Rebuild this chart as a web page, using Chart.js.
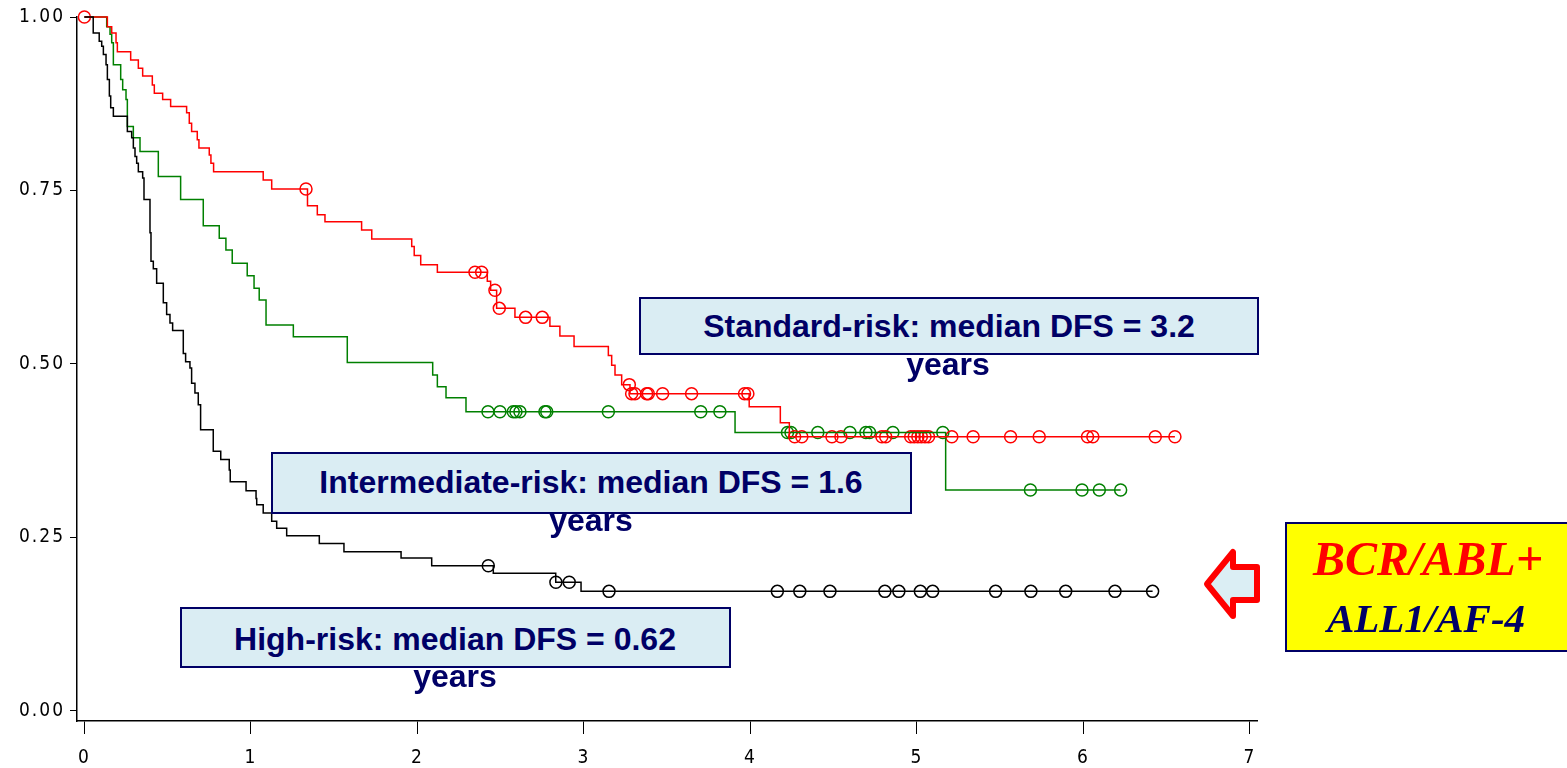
<!DOCTYPE html>
<html>
<head>
<meta charset="utf-8">
<script src="https://cdn.jsdelivr.net/npm/chart.js@4.4.1/dist/chart.umd.min.js"></script>
<style>
  body { margin: 0; background: #fff; overflow: hidden; }
  #wrap { position: relative; width: 1567px; height: 768px; }
  #chart { position: absolute; left: 0; top: 0; }
  .box { position: absolute; background: #daedf3; border: 2px solid #000066; box-sizing: border-box; }
  .lbl { position: absolute; color: #000066; font: bold 32px 'Liberation Sans', Arial, sans-serif;
         line-height: 37px; white-space: nowrap; transform: translateX(-50%); }
  .gene { position: absolute; font-family: 'Liberation Serif', 'Times New Roman', serif; font-style: italic;
          font-weight: bold; white-space: nowrap; transform: translateX(-50%); }
  #bcrbox { background: #ffff00; }
  #arrow { position: absolute; left: 0; top: 0; }
</style>
</head>
<body>
<div id="wrap">
  <canvas id="chart" width="1567" height="768"></canvas>

  <div class="box" style="left:639px;top:297px;width:620px;height:58px;"></div>
  <div class="lbl" style="left:949px;top:308px;">Standard-risk: median DFS = 3.2</div>
  <div class="lbl" style="left:948px;top:346px;">years</div>

  <div class="box" style="left:271px;top:452px;width:641px;height:62px;"></div>
  <div class="lbl" style="left:591px;top:464px;">Intermediate-risk: median DFS = 1.6</div>
  <div class="lbl" style="left:591px;top:502px;">years</div>

  <div class="box" style="left:180px;top:607px;width:551px;height:61px;"></div>
  <div class="lbl" style="left:455px;top:621px;">High-risk: median DFS = 0.62</div>
  <div class="lbl" style="left:455px;top:658px;">years</div>

  <svg id="arrow" width="1567" height="768">
    <polygon points="1207,584 1233,552 1233,567 1257,567 1257,600 1233,600 1233,616"
             fill="#dbeef4" stroke="#ff0000" stroke-width="6" stroke-linejoin="round"/>
  </svg>

  <div class="box" id="bcrbox" style="left:1285px;top:522px;width:290px;height:130px;"></div>
  <div class="gene" style="left:1428px;top:535px;color:#ff0000;font-size:48px;line-height:48px;">BCR/ABL+</div>
  <div class="gene" style="left:1426px;top:598px;color:#000066;font-size:41px;line-height:41px;">ALL1/AF-4</div>
</div>

<script>
// Axis ticks
const xTicks = [0, 1, 2, 3, 4, 5, 6, 7];
const yTicks = [0, 0.25, 0.5, 0.75, 1];

// Standard risk (red): step times and survival after each step
const redT = [0, 0.138, 0.164, 0.190, 0.198, 0.278, 0.324, 0.350, 0.408, 0.420, 0.470, 0.518, 0.614, 0.630,
  0.644, 0.678, 0.688, 0.750, 0.760, 0.776, 1.074, 1.125, 1.340, 1.399, 1.445, 1.665, 1.726, 1.966, 1.981,
  2.020, 2.120, 2.420, 2.440, 2.476, 2.586, 2.796, 2.856, 2.941, 3.147, 3.167, 3.187, 3.227, 3.277, 3.993,
  4.180, 4.234, 6.550];
const redS = [1, 0.986, 0.977, 0.963, 0.950, 0.938, 0.926, 0.915, 0.902, 0.890, 0.881, 0.871, 0.862, 0.847,
  0.835, 0.823, 0.811, 0.801, 0.789, 0.777, 0.765, 0.752, 0.728, 0.715, 0.705, 0.693, 0.680, 0.669, 0.656,
  0.643, 0.632, 0.619, 0.606, 0.580, 0.567, 0.554, 0.540, 0.525, 0.512, 0.498, 0.484, 0.470, 0.457, 0.438,
  0.415, 0.395, 0.395];
const redCT = [0, 1.331, 2.346, 2.386, 2.466, 2.492, 2.650, 2.750, 3.273, 3.287, 3.307, 3.377, 3.387, 3.473,
  3.647, 3.965, 3.985, 4.266, 4.309, 4.490, 4.544, 4.790, 4.813, 4.963, 4.984, 5.006, 5.027, 5.049, 5.070,
  5.210, 5.338, 5.563, 5.735, 6.025, 6.057, 6.432, 6.550];
const redCS = [1, 0.752, 0.632, 0.632, 0.606, 0.580, 0.567, 0.567, 0.470, 0.457, 0.457, 0.457, 0.457, 0.457,
  0.457, 0.457, 0.457, 0.395, 0.395, 0.395, 0.395, 0.395, 0.395, 0.395, 0.395, 0.395, 0.395, 0.395, 0.395,
  0.395, 0.395, 0.395, 0.395, 0.395, 0.395, 0.395, 0.395];

// Intermediate risk (green)
const greenT = [0, 0.134, 0.154, 0.164, 0.174, 0.218, 0.230, 0.250, 0.258, 0.294, 0.334, 0.444, 0.578, 0.714,
  0.810, 0.850, 0.888, 0.978, 1.019, 1.050, 1.091, 1.255, 1.579, 2.092, 2.120, 2.172, 2.292, 3.908, 5.173, 6.224];
const greenS = [1, 0.986, 0.975, 0.963, 0.931, 0.910, 0.895, 0.881, 0.842, 0.826, 0.806, 0.770, 0.737, 0.699,
  0.681, 0.664, 0.645, 0.627, 0.609, 0.592, 0.556, 0.539, 0.502, 0.484, 0.467, 0.451, 0.431, 0.401, 0.318, 0.318];
const greenCT = [2.424, 2.496, 2.576, 2.592, 2.616, 2.766, 2.777, 3.147, 3.702, 3.817, 4.223, 4.244, 4.405,
  4.598, 4.694, 4.716, 4.856, 5.156, 5.682, 5.992, 6.096, 6.224];
const greenCS = [0.431, 0.431, 0.431, 0.431, 0.431, 0.431, 0.431, 0.431, 0.431, 0.431, 0.401, 0.401, 0.401,
  0.401, 0.401, 0.401, 0.401, 0.401, 0.318, 0.318, 0.318, 0.318];

// High risk (black)
const blackT = [0, 0.053, 0.089, 0.104, 0.114, 0.130, 0.138, 0.150, 0.158, 0.174, 0.258, 0.284, 0.294, 0.304,
  0.314, 0.324, 0.350, 0.358, 0.394, 0.400, 0.414, 0.434, 0.474, 0.494, 0.514, 0.530, 0.594, 0.608, 0.634,
  0.644, 0.664, 0.684, 0.698, 0.774, 0.819, 0.870, 0.876, 0.971, 1.031, 1.035, 1.074, 1.125, 1.155, 1.215,
  1.411, 1.559, 1.902, 2.086, 2.456, 2.831, 2.983, 6.416];
const blackS = [1, 0.977, 0.965, 0.958, 0.946, 0.931, 0.910, 0.886, 0.869, 0.857, 0.835, 0.826, 0.811, 0.799,
  0.789, 0.777, 0.768, 0.737, 0.689, 0.648, 0.637, 0.616, 0.588, 0.571, 0.559, 0.548, 0.515, 0.503, 0.494,
  0.472, 0.458, 0.441, 0.405, 0.374, 0.362, 0.347, 0.330, 0.317, 0.306, 0.297, 0.285, 0.273, 0.263, 0.252,
  0.241, 0.229, 0.220, 0.209, 0.198, 0.185, 0.172, 0.172];
const blackCT = [2.426, 2.832, 2.912, 3.151, 4.162, 4.297, 4.478, 4.808, 4.892, 5.021, 5.095, 5.473, 5.685,
  5.894, 6.190, 6.416];
const blackCS = [0.209, 0.185, 0.185, 0.172, 0.172, 0.172, 0.172, 0.172, 0.172, 0.172, 0.172, 0.172, 0.172,
  0.172, 0.172, 0.172];

const pts = (t, s) => t.map((v, i) => ({ x: v, y: s[i] }));

function stepSet(t, s, color) {
  return { data: pts(t, s), borderColor: color, borderWidth: 1.5, stepped: true, showLine: true,
           pointRadius: 0, fill: false, clip: false };
}
function censorSet(t, s, color) {
  return { data: pts(t, s), borderColor: color, backgroundColor: 'transparent', showLine: false,
           pointStyle: 'circle', pointRadius: 6, pointBorderWidth: 1.5, clip: false };
}

const tickFont = { family: "'DejaVu Sans Condensed', 'Liberation Sans Narrow', 'DejaVu Sans', sans-serif", size: 19 };

// SAS-style spaced tick digits
const spacing = {
  id: 'spacing',
  beforeDraw(c) { c.ctx.letterSpacing = '2px'; }
};

new Chart(document.getElementById('chart'), {
  type: 'scatter',
  data: {
    datasets: [
      stepSet(blackT, blackS, '#000000'),
      stepSet(redT, redS, '#ff0000'),
      stepSet(greenT, greenS, '#008000'),
      censorSet(blackCT, blackCS, '#000000'),
      censorSet(redCT, redCS, '#ff0000'),
      censorSet(greenCT, greenCS, '#008000')
    ]
  },
  options: {
    responsive: false,
    animation: false,
    layout: { padding: { top: 17, right: 310, left: 0, bottom: 0 } },
    plugins: { legend: { display: false }, tooltip: { enabled: false } },
    scales: {
      x: {
        type: 'linear', min: -0.0444, max: 7.043,
        afterBuildTicks: s => { s.ticks = xTicks.map(v => ({ value: v })); },
        afterFit: s => { s.height = 47; },
        border: { color: '#000', width: 1.5 },
        grid: { drawOnChartArea: false, tickLength: 13, color: '#000', tickWidth: 1 },
        ticks: { color: '#000', font: tickFont, padding: 13, maxRotation: 0 }
      },
      y: {
        type: 'linear', min: -0.0149, max: 1.0,
        afterBuildTicks: s => { s.ticks = yTicks.map(v => ({ value: v })); },
        afterFit: s => { s.width = 77; },
        border: { color: '#000', width: 1.5 },
        grid: { drawOnChartArea: false, tickLength: 7, color: '#000', tickWidth: 1 },
        ticks: { color: '#000', font: tickFont, padding: 5, callback: v => v.toFixed(2) }
      }
    }
  },
  plugins: [spacing]
});
</script>
</body>
</html>
